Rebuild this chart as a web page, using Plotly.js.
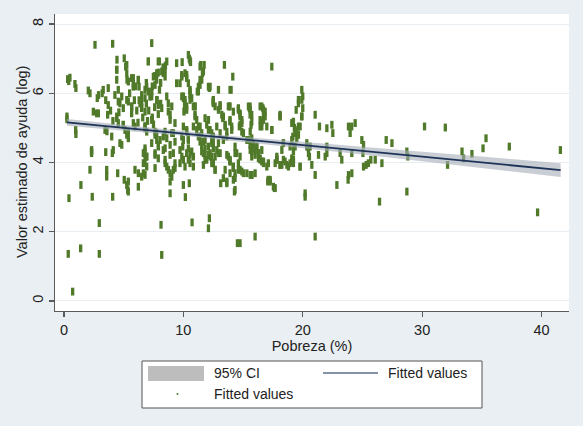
<!DOCTYPE html>
<html><head><meta charset="utf-8">
<script src="https://cdn.plot.ly/plotly-3.0.1.min.js"></script>
<style>html,body{margin:0;padding:0;background:#e9eff2;}#chart{width:583px;height:426px;}</style>
</head><body><div id="chart"></div>
<script>
// Poverty (%) for each observation
const poverty = [
2.6,4.08,7.35,0.31,0.4,0.5,0.92,1.0,2.04,2.18,4.44,5.05,4.42,5.17,5.28,5.67,5.81,6.23,7.07,7.99,
8.61,8.32,7.77,7.63,7.35,6.79,6.51,3.71,3.29,2.79,2.46,2.74,2.88,3.71,3.66,4.27,4.55,4.97,5.26,5.67,
0.25,0.25,0.98,1.0,3.44,4.42,4.97,5.95,6.79,7.63,7.35,8.32,9.03,4.0,5.39,4.84,2.32,4.13,6.79,8.47,
8.89,9.87,9.72,9.03,8.89,9.30,6.3,6.5,6.9,7.1,7.2,6.6,7.0,7.4,7.6,7.8,6.1,6.8,7.5,6.2,
7.9,8.1,8.0,7.4,6.9,7.6,7.9,8.3,8.5,8.1,2.9,3.2,3.5,3.9,4.1,4.6,5.5,5.9,6.0,3.6,
2.3,3.5,5.11,5.26,
10.42,10.5,10.56,11.46,11.68,13.44,14.14,17.41,9.87,10.28,11.4,11.26,11.17,12.18,12.94,14.0,10.0,10.1,10.05,10.56,
10.56,10.98,10.98,12.51,13.08,13.86,14.61,14.75,15.53,16.66,16.85,16.71,18.1,19.22,19.64,19.92,20.0,19.45,19.36,19.5,
17.41,16.43,15.67,15.6,15.73,15.87,14.75,14.9,13.9,14.05,13.3,13.5,13.64,12.1,12.24,12.38,12.51,11.26,11.4,11.54,
10.28,10.42,9.87,18.38,18.25,18.94,19.22,20.34,20.48,16.15,16.29,16.57,15.6,15.73,11.54,11.82,13.08,13.64,
2.32,4.05,2.18,3.58,3.58,4.5,5.05,5.26,5.34,6.23,5.95,6.23,6.51,6.79,6.65,6.79,6.93,7.63,7.63,8.47,
8.74,9.03,8.89,9.30,9.72,10.0,10.0,8.89,0.42,1.42,2.37,4.08,2.96,8.13,0.36,1.4,2.96,8.19,0.73,10.17,
10.5,10.73,12.1,12.18,13.13,13.64,14.28,14.53,14.75,16.01,17.07,17.63,
10.28,10.42,10.14,10.84,11.68,11.82,11.68,12.38,12.51,12.66,12.94,14.19,13.9,14.19,14.61,14.9,15.32,15.73,14.33,14.75,
14.61,15.73,16.01,16.29,16.57,17.12,17.12,17.83,18.1,18.67,19.09,19.78,20.2,
19.92,20.0,19.92,18.1,21.04,19.64,19.36,21.4,22.02,22.44,22.52,23.83,24.1,24.39,23.97,24.95,25.09,25.04,26.99,27.47,
30.2,31.94,35.35,35.1,37.3,41.58,33.34,33.47,34.17,32.13,28.72,28.8,18.38,18.25,19.17,19.36,19.22,20.62,20.56,20.76,
21.04,21.32,22.02,22.02,21.88,23.13,23.27,24.11,23.83,24.11,25.09,25.31,25.5,25.7,26.07,26.63,22.86,26.43,28.72,39.67,
23.8,21.04,
7.77,8.05,7.91,8.32,8.47,8.61,8.89,9.16,9.3,6.93,6.65,6.65,5.39,5.39,10.0,9.95,10.7,10.84,10.56,11.4,
11.54,11.82,12.1,12.24,11.96,12.8,13.08,13.35,13.91,14.19,14.33,13.91,14.75,14.9,14.69,15.03,15.45,15.6,15.73,16.43,
16.71,16.85,16.57,16.99,15.45,15.73,16.01,16.43,16.71,16.99,17.27,17.54,16.01,15.6,18.94,9.87,10.14,10.28,10.42,10.56,
10.84,11.12,11.54,11.74,12.1,12.51,12.66,12.94,13.22,13.91,13.91,14.19,17.83,17.69,19.3,19.5,
4.42,4.42,4.55,5.26,5.26,5.39,5.81,5.81,6.23,6.29,7.07,7.9,7.49,7.77,8.19,8.47,8.47,6.93,7.07,7.35,
6.79,6.51,4.84,4.69,5.39,5.67,5.67,6.37,6.51,6.79,7.77,7.9,8.19,8.61,8.74,8.74,8.89,9.44,9.44,10.14,
10.28,10.0,10.14,10.28,10.56,10.7,10.98,10.98,11.4,11.6,11.4,11.26,10.6,9.9,12.24,12.51,11.82,11.96,12.1,4.42,
4.55,4.97,5.81,5.39,5.39,6.79,6.93,7.35,7.63,7.77,7.9,8.47,8.61,9.16,9.3,10.0,10.28,10.42,10.84,11.12,
11.26,11.4,4.69,6.79,6.93,7.63,7.9,8.89,9.16,9.72,9.87,10.42,10.56,11.68,11.82,12.1,12.51,12.38,
12.51,13.08,13.77,13.35,13.5,13.64,13.91,14.05,14.61,14.75,14.9,15.59,15.59,15.73,16.57,16.71,16.43,16.57,17.41,18.1,
19.08,19.64,19.92,19.78,19.64,20.34,20.48,12.38,12.51,12.94,12.8,12.66,12.51,12.66,13.77,13.91,14.19,14.33,14.47,15.32,
15.59,15.87,16.15,16.29,16.43,16.71,14.75,15.03,13.5,13.35,13.64,14.33,14.33,15.73,17.12,17.27,17.69,17.83,18.1,18.52,
18.8,19.08,19.22,19.78,19.08,19.22,18.38,12.24,12.38,20.2
];
// Estimated aid value (log) for each observation
const aidLog = [
7.40,7.43,7.45,6.41,6.35,6.45,6.27,6.15,6.08,6.0,6.97,7.01,6.68,6.77,6.39,6.44,6.24,6.39,6.92,6.92,
6.92,6.58,6.39,6.24,6.05,6.10,5.95,6.15,6.10,5.86,5.47,5.42,5.42,5.66,5.38,5.95,5.76,5.57,5.81,5.62,
5.33,5.25,4.94,4.82,4.94,5.28,5.09,5.04,4.99,4.89,4.56,4.75,4.85,4.75,4.85,4.51,4.36,4.36,4.32,4.41,
4.22,6.48,6.29,5.62,5.38,5.14,5.8,5.6,5.7,5.5,5.9,5.3,5.2,5.3,5.6,5.8,5.5,5.05,5.1,5.15,
5.4,5.7,6.1,6.2,6.3,6.5,6.6,6.75,6.8,6.3,5.95,6.0,5.8,5.5,5.2,5.45,6.0,5.8,6.2,4.9,
4.32,4.3,4.94,4.80,
7.11,7.0,6.95,6.82,6.63,6.82,6.48,6.77,6.53,6.53,6.39,6.19,6.05,6.15,6.10,6.10,5.86,5.66,5.47,5.95,
5.81,5.62,5.33,5.76,5.62,5.62,5.52,5.33,5.57,5.57,5.47,5.23,5.33,5.18,5.81,6.10,5.91,5.52,4.94,4.70,
4.94,5.04,5.09,4.89,4.70,4.51,5.09,4.89,5.18,4.94,5.28,5.04,4.75,5.23,4.94,4.65,4.41,5.04,4.75,4.51,
4.94,4.65,4.75,4.56,4.36,4.46,4.32,4.56,4.41,4.46,4.27,4.36,4.36,4.17,4.32,4.22,4.27,4.22,
4.27,4.27,3.79,3.79,3.59,3.69,3.5,3.35,3.21,3.30,3.79,3.69,3.59,3.64,4.27,4.08,3.88,4.22,3.84,3.98,
3.79,3.59,3.45,3.84,3.98,4.08,3.35,3.11,2.97,3.35,3.01,3.01,2.25,2.20,1.36,1.52,1.36,1.33,0.27,3.0,
3.4,2.27,2.1,2.39,3.4,3.4,3.16,1.67,1.67,1.86,3.45,3.26,
4.27,4.08,3.88,3.88,4.27,4.08,3.93,4.17,3.98,3.79,4.27,3.5,4.03,3.84,3.79,3.74,3.69,3.64,4.27,4.17,
3.98,4.32,4.22,4.12,4.03,3.98,3.5,4.08,3.93,3.93,4.03,3.88,3.01,
5.81,5.57,5.33,5.38,5.38,5.04,4.85,5.04,4.99,5.09,4.85,5.04,5.04,5.14,4.85,4.65,4.51,4.27,4.65,4.56,
5.04,5.01,4.70,4.41,4.46,4.36,4.32,4.12,4.25,3.93,4.32,4.17,4.08,3.93,4.75,4.46,4.08,4.46,4.17,3.93,
3.64,4.22,4.46,4.27,4.17,4.27,4.08,4.27,3.64,3.69,3.88,3.93,3.98,4.08,4.08,3.98,3.35,2.87,3.16,2.56,
3.5,1.86,
4.85,4.65,4.46,4.36,4.08,3.88,3.69,3.79,3.98,4.17,3.98,3.69,3.45,3.16,4.65,4.46,4.32,4.17,3.98,5.04,
4.85,4.65,4.46,4.27,4.08,5.04,4.85,4.65,4.08,3.88,3.69,3.69,5.42,5.23,5.04,4.85,5.62,5.52,5.38,5.62,
5.52,5.33,5.18,5.04,4.65,4.46,4.36,4.08,3.98,3.88,3.5,3.3,3.69,3.64,3.98,5.91,5.81,5.62,6.29,6.1,
5.62,5.23,6.39,6.82,6.19,5.81,5.62,5.52,5.38,6.10,5.62,5.47,4.17,3.98,5.0,4.9,
6.68,6.39,6.10,6.82,6.58,6.34,6.44,6.19,6.39,6.19,6.92,6.92,6.48,6.58,6.63,6.68,6.48,6.19,6.05,5.91,
5.86,5.76,5.91,5.71,5.76,5.62,5.42,5.71,5.57,5.47,5.81,5.66,5.57,5.91,5.71,5.47,5.23,6.87,6.29,6.58,
6.44,5.91,5.71,5.52,6.05,5.86,5.62,5.38,6.77,6.58,6.24,6.05,6.9,6.9,6.19,5.76,5.28,5.09,4.94,5.33,
5.14,5.09,5.14,4.89,4.7,5.04,4.89,5.23,4.8,4.65,4.51,4.89,4.70,4.85,4.6,5.04,4.89,4.7,5.04,4.94,
4.75,4.6,4.56,4.41,4.17,4.27,4.12,4.51,4.27,4.36,4.17,4.41,4.22,4.6,4.41,4.22,4.75,4.56,
5.71,5.66,5.62,5.33,5.09,4.89,5.23,5.04,5.57,5.38,5.14,5.62,5.38,5.18,5.62,5.42,5.23,5.04,4.94,5.33,
5.14,5.71,5.33,5.04,4.8,4.46,4.27,4.85,4.6,4.56,4.36,4.17,3.98,3.79,4.17,4.03,3.88,4.46,4.27,4.65,
4.51,4.41,4.46,4.27,4.12,4.03,3.79,3.69,3.79,3.55,3.45,3.55,3.21,3.64,3.5,3.45,3.26,4.08,3.93,4.03,
3.88,4.12,3.98,3.88,4.65,4.46,4.56,4.17,3.98,3.11
];
// Fitted regression line end points
const fitX = [0.25, 41.6];
const fitY = [5.16, 3.78];
// 95% confidence band
const ciX  = [0.25, 5, 10, 15, 20, 25, 30, 35, 41.6];
const ciLo = [5.06, 4.92, 4.77, 4.60, 4.41, 4.23, 4.04, 3.84, 3.58];
const ciHi = [5.26, 5.08, 4.91, 4.74, 4.59, 4.45, 4.31, 4.17, 3.98];
const xTicks = [0, 10, 20, 30, 40];
const yTicks = [0, 2, 4, 6, 8];
const xTitle = "Pobreza (%)";
const yTitle = "Valor estimado de ayuda (log)";
const legendLabels = ["95% CI", "Fitted values", "Fitted values"];

const FONT = "Liberation Sans, Arial, Helvetica, sans-serif";
const green = "#507a2a";

const traces = [
  {
    type: "scatter", mode: "markers", x: poverty, y: aidLog,
    marker: {symbol: "line-ns", size: 5.6, color: green, line: {width: 3.3, color: green}},
    showlegend: false, hoverinfo: "skip"
  },
  {
    type: "scatter", mode: "lines",
    x: ciX.concat(ciX.slice().reverse()),
    y: ciHi.concat(ciLo.slice().reverse()),
    fill: "toself", fillcolor: "rgba(165,171,183,0.6)", line: {width: 0},
    showlegend: false, hoverinfo: "skip"
  },
  {
    type: "scatter", mode: "lines", x: fitX, y: fitY,
    line: {color: "#1e3358", width: 1.8},
    showlegend: false, hoverinfo: "skip"
  }
];

// paper-coordinate helpers for the legend (plot area 55..569 x, 14..311 y)
const L = 55, R = 569, T = 14, B = 311;
const px = v => (v - L) / (R - L);
const py = v => (B - v) / (B - T);

const layout = {
  width: 583, height: 426,
  margin: {l: 55, r: 14, t: 14, b: 115},
  paper_bgcolor: "#e9eff2",
  plot_bgcolor: "#ffffff",
  font: {family: FONT, size: 14, color: "#222"},
  showlegend: false,
  xaxis: {
    range: [-0.75, 42.3], tickvals: xTicks, ticktext: xTicks.map(String),
    showline: true, linecolor: "#5a5a5a", linewidth: 1.3,
    ticks: "outside", ticklen: 5, tickcolor: "#5a5a5a", tickwidth: 1.2,
    showgrid: false, zeroline: false,
    tickfont: {size: 14.5, color: "#222"},
    title: {text: xTitle, font: {size: 14.5, color: "#222"}, standoff: 0}
  },
  yaxis: {
    range: [-0.29, 8.29], tickvals: yTicks, ticktext: yTicks.map(String),
    showline: true, linecolor: "#5a5a5a", linewidth: 1.3,
    ticks: "outside", ticklen: 5, tickcolor: "#5a5a5a", tickwidth: 1.2,
    showgrid: true, gridcolor: "#e8edf1", gridwidth: 1, zeroline: false,
    tickangle: -90,
    tickfont: {size: 14.5, color: "#222"}
  },
  shapes: [
    {type: "rect", xref: "paper", yref: "paper", x0: px(142), x1: px(482), y0: py(408), y1: py(361),
     fillcolor: "#ffffff", line: {color: "#555", width: 1}},
    {type: "rect", xref: "paper", yref: "paper", x0: px(148), x1: px(204), y0: py(381), y1: py(366),
     fillcolor: "#bdbdbd", line: {width: 0}},
    {type: "line", xref: "paper", yref: "paper", x0: px(323), x1: px(378), y0: py(373), y1: py(373),
     line: {color: "#5b6f8c", width: 1.6}},
    {type: "circle", xref: "paper", yref: "paper", x0: px(176.5), x1: px(178.5), y0: py(395), y1: py(393),
     fillcolor: green, line: {width: 0}}
  ],
  annotations: [
    {xref: "paper", yref: "paper", x: px(22), y: py(162), text: yTitle, showarrow: false,
     textangle: -90, xanchor: "center", yanchor: "middle", font: {size: 14.5, color: "#222"}},
    {xref: "paper", yref: "paper", x: px(212), y: py(373), text: legendLabels[0], showarrow: false,
     xanchor: "left", yanchor: "middle", font: {size: 14, color: "#222"}},
    {xref: "paper", yref: "paper", x: px(386), y: py(373), text: legendLabels[1], showarrow: false,
     xanchor: "left", yanchor: "middle", font: {size: 14, color: "#222"}},
    {xref: "paper", yref: "paper", x: px(212), y: py(394), text: legendLabels[2], showarrow: false,
     xanchor: "left", yanchor: "middle", font: {size: 14, color: "#222"}}
  ]
};

Plotly.newPlot("chart", traces, layout, {displayModeBar: false, staticPlot: true});
</script>
</body></html>
